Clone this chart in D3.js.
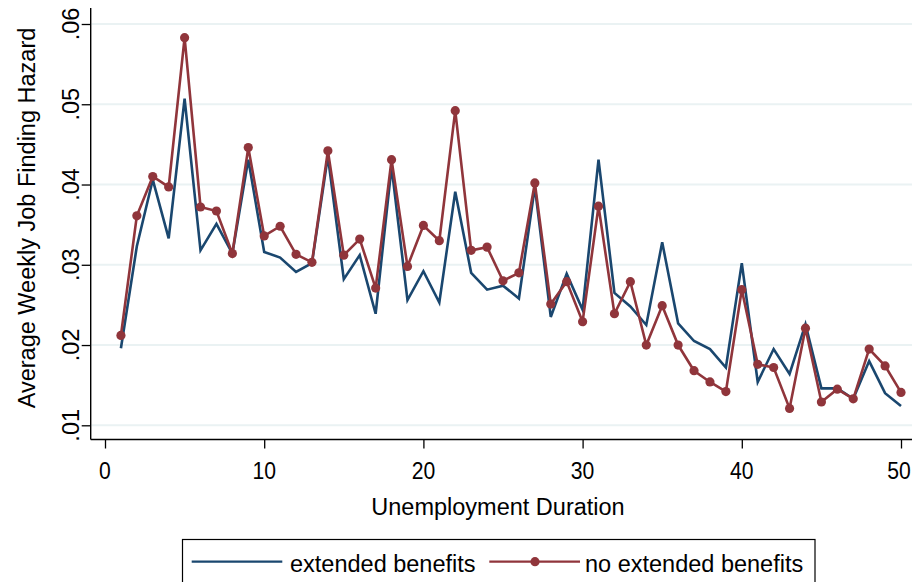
<!DOCTYPE html>
<html>
<head>
<meta charset="utf-8">
<script src="https://cdn.jsdelivr.net/npm/d3@7"></script>
<style>
  html, body { margin: 0; padding: 0; background: #ffffff; }
  svg { display: block; }
  text { font-family: "Liberation Sans", Arial, sans-serif; fill: #000; }
</style>
</head>
<body>
<svg id="chart" width="912" height="582"></svg>
<script>
const weeks = d3.range(1, 51);
const extendedBenefits = [
  0.0196, 0.0323, 0.0406, 0.0333, 0.0507, 0.0318, 0.0351, 0.0314, 0.0431, 0.0316,
  0.0309, 0.0291, 0.0302, 0.0435, 0.0282, 0.0312, 0.0239, 0.0422, 0.0256, 0.0292,
  0.0253, 0.0391, 0.0290, 0.0269, 0.0274, 0.0258, 0.0397, 0.0235, 0.0289, 0.0244,
  0.0431, 0.0265, 0.0248, 0.0225, 0.0328, 0.0227, 0.0205, 0.0195, 0.0172, 0.0302,
  0.0154, 0.0195, 0.0164, 0.0226, 0.0146, 0.0146, 0.0133, 0.0180, 0.0140, 0.0124
];
const noExtendedBenefits = [
  0.0212, 0.0361, 0.0410, 0.0397, 0.0583, 0.0372, 0.0367, 0.0314, 0.0446, 0.0336,
  0.0348, 0.0313, 0.0303, 0.0442, 0.0312, 0.0332, 0.0271, 0.0431, 0.0298, 0.0349,
  0.0330, 0.0492, 0.0318, 0.0322, 0.0280, 0.0290, 0.0402, 0.0251, 0.0279, 0.0229,
  0.0373, 0.0239, 0.0279, 0.0200, 0.0249, 0.0200, 0.0168, 0.0154, 0.0142, 0.0269,
  0.0176, 0.0172, 0.0121, 0.0221, 0.0129, 0.0145, 0.0133, 0.0195, 0.0174, 0.0141
];
const yTicks = [0.01, 0.02, 0.03, 0.04, 0.05, 0.06];
const xTicks = [0, 10, 20, 30, 40, 50];
const seriesNames = ["extended benefits", "no extended benefits"];
const xTitle = "Unemployment Duration";
const yTitle = "Average Weekly Job Finding Hazard";

const BLUE = "#1a476f", RED = "#90353b", GRID = "#eaf2f3";
const svg = d3.select("#chart");
const axisX0 = 90.7, axisY0 = 439.5, plotRight = 912, plotTop = 8;

const x = d3.scaleLinear().domain([0, 50]).range([105, 901]);
const y = d3.scaleLinear().domain([0.01, 0.06]).range([425.3, 24]);
const fmt = v => d3.format(".2f")(v).replace(/^0/, "");
const FS = 23.5;

// gridlines
svg.append("g").selectAll("line").data(yTicks).join("line")
  .attr("x1", axisX0 + 1).attr("x2", plotRight)
  .attr("y1", d => y(d)).attr("y2", d => y(d))
  .attr("stroke", GRID).attr("stroke-width", 2);

// y axis
const yAxis = svg.append("g").attr("transform", `translate(${axisX0},0)`)
  .call(d3.axisLeft(y).tickValues(yTicks).tickSize(9).tickFormat(""));
yAxis.select(".domain").remove();
yAxis.selectAll(".tick line").attr("stroke", "#000").attr("stroke-width", 1.3);
svg.append("line").attr("x1", axisX0).attr("x2", axisX0)
  .attr("y1", plotTop).attr("y2", axisY0).attr("stroke", "#000").attr("stroke-width", 1.4);
svg.append("g").selectAll("text").data(yTicks).join("text")
  .attr("transform", d => `translate(79,${y(d)}) rotate(-90)`)
  .attr("text-anchor", "middle").attr("font-size", FS)
  .text(fmt);

// x axis
const xAxis = svg.append("g").attr("transform", `translate(0,${axisY0})`)
  .call(d3.axisBottom(x).tickValues(xTicks).tickSize(9).tickFormat(""));
xAxis.select(".domain").remove();
xAxis.selectAll(".tick line").attr("stroke", "#000").attr("stroke-width", 1.3);
svg.append("line").attr("x1", axisX0).attr("x2", plotRight)
  .attr("y1", axisY0).attr("y2", axisY0).attr("stroke", "#000").attr("stroke-width", 1.4);
svg.append("g").selectAll("text").data(xTicks).join("text")
  .attr("transform", d => `translate(${Math.min(x(d), 899)},478.5) scale(0.9,1)`)
  .attr("text-anchor", "middle").attr("font-size", FS)
  .text(d => d);

// titles
svg.append("text").attr("x", 498).attr("y", 515)
  .attr("text-anchor", "middle").attr("font-size", FS).text(xTitle);
svg.append("text").attr("transform", "translate(35,218) rotate(-90)")
  .attr("text-anchor", "middle").attr("font-size", FS).text(yTitle);

// lines
const line = d3.line().x((d, i) => x(weeks[i])).y(d => y(d));
svg.append("path").datum(extendedBenefits).attr("d", line)
  .attr("fill", "none").attr("stroke", BLUE).attr("stroke-width", 2.6)
  .attr("stroke-linejoin", "miter");
svg.append("path").datum(noExtendedBenefits).attr("d", line)
  .attr("fill", "none").attr("stroke", RED).attr("stroke-width", 2.6)
  .attr("stroke-linejoin", "miter");
svg.append("g").selectAll("circle").data(noExtendedBenefits).join("circle")
  .attr("cx", (d, i) => x(weeks[i])).attr("cy", d => y(d)).attr("r", 4.6)
  .attr("fill", RED);

// legend
const lg = svg.append("g");
lg.append("rect").attr("x", 182.5).attr("y", 539.5).attr("width", 632.5).attr("height", 70)
  .attr("fill", "#fff").attr("stroke", "#000").attr("stroke-width", 1.2);
lg.append("line").attr("x1", 191.7).attr("x2", 282.3).attr("y1", 561.7).attr("y2", 561.7)
  .attr("stroke", BLUE).attr("stroke-width", 2.2);
lg.append("text").attr("x", 290).attr("y", 571.5).attr("font-size", FS).text(seriesNames[0]);
lg.append("line").attr("x1", 489.3).attr("x2", 580).attr("y1", 561.7).attr("y2", 561.7)
  .attr("stroke", RED).attr("stroke-width", 2.2);
lg.append("circle").attr("cx", 535).attr("cy", 561.7).attr("r", 4.6).attr("fill", RED);
lg.append("text").attr("x", 585).attr("y", 571.5).attr("font-size", FS).text(seriesNames[1]);
</script>
</body>
</html>
